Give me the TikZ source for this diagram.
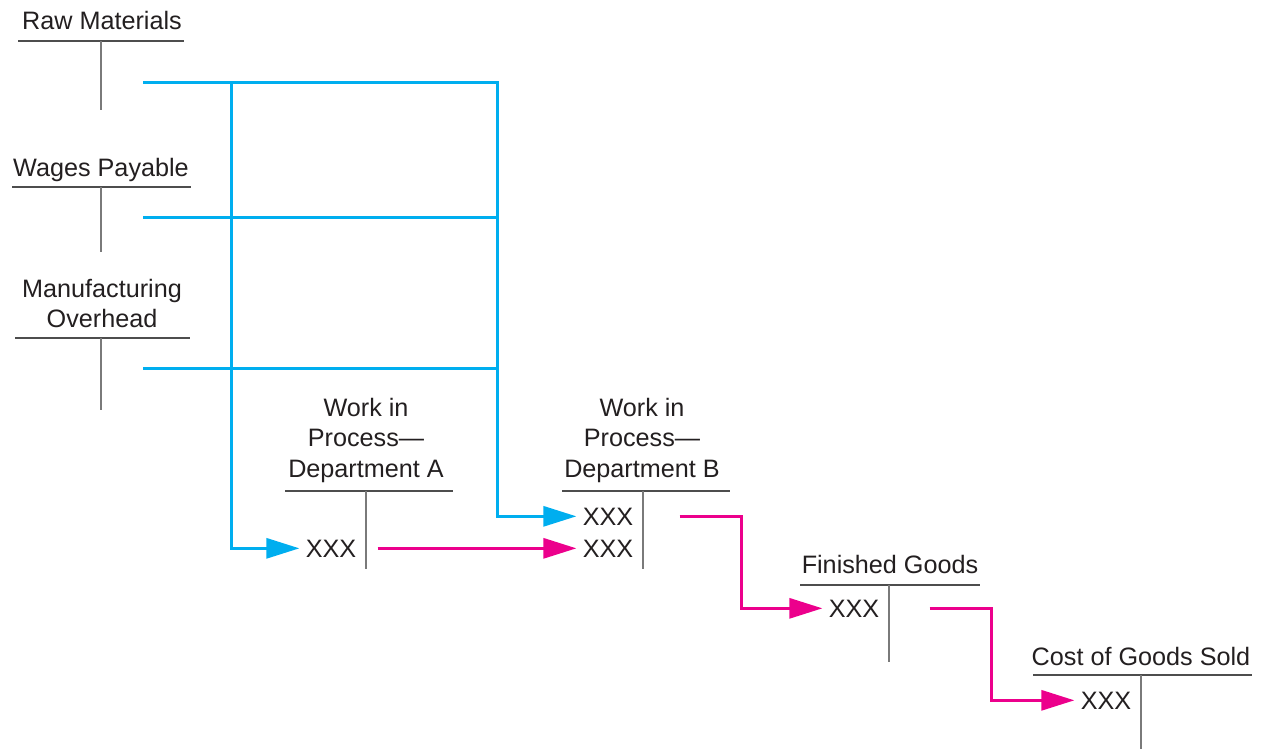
\documentclass[tikz,border=0pt]{standalone}
\usepackage{fontspec}
\setmainfont{Liberation Sans}
\usetikzlibrary{arrows.meta}
\definecolor{cyanline}{HTML}{00AEEF}
\definecolor{magline}{HTML}{EC008C}
\definecolor{txt}{HTML}{231F20}
\definecolor{rulegray}{HTML}{4D4D4D}
\definecolor{stemgray}{HTML}{7A7A7A}
\begin{document}
\begin{tikzpicture}[x=0.5pt,y=-0.5pt,
  lbl/.style={font=\fontsize{12.6}{15.25}\selectfont, text=txt, inner sep=0pt, align=center, anchor=base},
  amt/.style={font=\fontsize{12.6}{15.25}\selectfont, text=txt, inner sep=3pt, anchor=base},
  hrule/.style={draw=rulegray, line width=1pt},
  vrule/.style={draw=stemgray, line width=1pt},
  flowc/.style={draw=cyanline, line width=1.5pt},
  flowm/.style={draw=magline, line width=1.5pt},
  tipc/.style={-{Triangle[length=16.5pt,width=10pt,fill=cyanline]}},
  tipm/.style={-{Triangle[length=16.5pt,width=10pt,fill=magline]}}]
\useasboundingbox (0,0) rectangle (1266,749);

% T-account titles (anchor base = baseline of the last line)
\node[lbl] (rm) at (102,30) {Raw Materials};
\node[lbl] (wp) at (101,177) {Wages Payable};
\node[lbl] (mo) at (102,328) {Manufacturing\\Overhead};
\node[lbl] (wa) at (366,477) {Work in\\Process---\\Department A};
\node[lbl] (wb) at (642,477) {Work in\\Process---\\Department B};
\node[lbl] (fg) at (890,573) {Finished Goods};
\node[lbl] (cg) at (1141,665) {Cost of Goods Sold};

% T-account rules
\draw[hrule] (18,41) -- (184,41);   \draw[vrule] (101,41) -- (101,110);
\draw[hrule] (12,187) -- (191,187); \draw[vrule] (101,187) -- (101,252);
\draw[hrule] (15,338) -- (190,338); \draw[vrule] (101,338) -- (101,410);
\draw[hrule] (285,491) -- (453,491); \draw[vrule] (366,491) -- (366,569);
\draw[hrule] (562,491) -- (730,491); \draw[vrule] (643,491) -- (643,569);
\draw[hrule] (800,585) -- (980,585); \draw[vrule] (889,585) -- (889,662);
\draw[hrule] (1033,675) -- (1252,675); \draw[vrule] (1141,675) -- (1141,749);

% amounts
\node[amt] (xA) at (331,557) {XXX};
\node[amt] (xB1) at (608,525) {XXX};
\node[amt] (xB2) at (608,557) {XXX};
\node[amt] (xF) at (854,617) {XXX};
\node[amt] (xC) at (1106,709) {XXX};

% cost flows (blue)
\coordinate (s1) at (143,83);
\coordinate (s2) at (143,218);
\coordinate (s3) at (143,369);
\coordinate (tA) at (231,83);
\coordinate (tB) at (497,83);
\draw[flowc] (s2) -- (s2 -| tB);
\draw[flowc] (s3) -- (s3 -| tB);
\draw[flowc,tipc] (tA) |- (xA.west);
\draw[flowc,tipc] (s1) -- (tB) |- (xB1.west);

% transfers (magenta)
\coordinate (kBF) at (741,560);
\coordinate (kFC) at (991,650);
\draw[flowm,tipm] ([xshift=7.5pt]xA.east) -- (xB2.west);
\draw[flowm,tipm] ([xshift=20pt]xB1.east) -| (kBF) |- (xF.west);
\draw[flowm,tipm] ([xshift=22pt]xF.east) -| (kFC) |- (xC.west);
\end{tikzpicture}
\end{document}
